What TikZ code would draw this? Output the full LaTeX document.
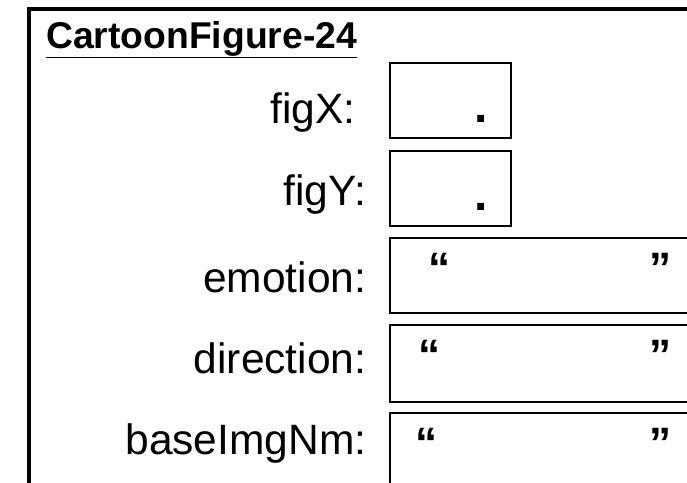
\documentclass[tikz,border=0pt]{standalone}
\usepackage{fontspec}
\setmainfont{Liberation Sans}
\begin{document}
\begin{tikzpicture}[x=1pt,y=-1pt,
  fieldbox/.style={draw, line width=2.4pt, inner sep=0pt, anchor=north west, minimum height=75pt},
  lbl/.style={font=\fontsize{42.5}{42.5}\selectfont, inner sep=0pt, anchor=base east},
  qt/.style={font=\bfseries\fontsize{44}{44}\selectfont, inner sep=0pt, anchor=base west},
  dotmark/.style={font=\bfseries\fontsize{48}{48}\selectfont, inner sep=0pt, anchor=base west}]
\useasboundingbox (0,0) rectangle (687,482);
\clip (0,0) rectangle (687,482);
\fill[white] (0,0) rectangle (687,482);
\node[draw, line width=4pt, anchor=north west, inner sep=0pt, minimum width=720pt, minimum height=520pt] (frame) at (26.5,6.5) {};
% title
\node[font=\bfseries\fontsize{37.3}{37.3}\selectfont, inner sep=0pt, anchor=base west] (title) at (46,48.5) {CartoonFigure-24};
\draw[line width=1.8pt] ([yshift=-9pt]title.base west) -- ([yshift=-9pt]title.base east);
% boxes
\node[fieldbox, minimum width=120.5pt] (bx) at (389,62) {};
\node[fieldbox, minimum width=120.5pt] (by) at (389,150) {};
\node[fieldbox, minimum width=400pt] (be) at (389,237) {};
\node[fieldbox, minimum width=400pt, minimum height=77pt] (bd) at (389,324) {};
\node[fieldbox, minimum width=400pt, minimum height=80pt] (bb) at (389,412) {};
% labels
\node[lbl] (lx) at (355.5,123.5) {figX:};
\node[lbl] (ly) at (366.5,205) {figY:};
\node[lbl] (le) at (366.5,292) {emotion:};
\node[lbl] (ld) at (366.5,373) {direction:};
\node[lbl] (lb) at (366.5,454) {baseImgNm:};
% values
\node[dotmark] (dx) at (474.5,122) {.};
\node[dotmark] (dy) at (474.5,210) {.};
\node[qt] (eo) at (428.5,283) {“};
\node[qt] (ec) at (649.5,283) {”};
\node[qt] (do) at (418.5,370) {“};
\node[qt] (dc) at (649.5,370) {”};
\node[qt] (bo) at (415.5,458) {“};
\node[qt] (bc) at (649.5,458) {”};
\end{tikzpicture}
\end{document}
